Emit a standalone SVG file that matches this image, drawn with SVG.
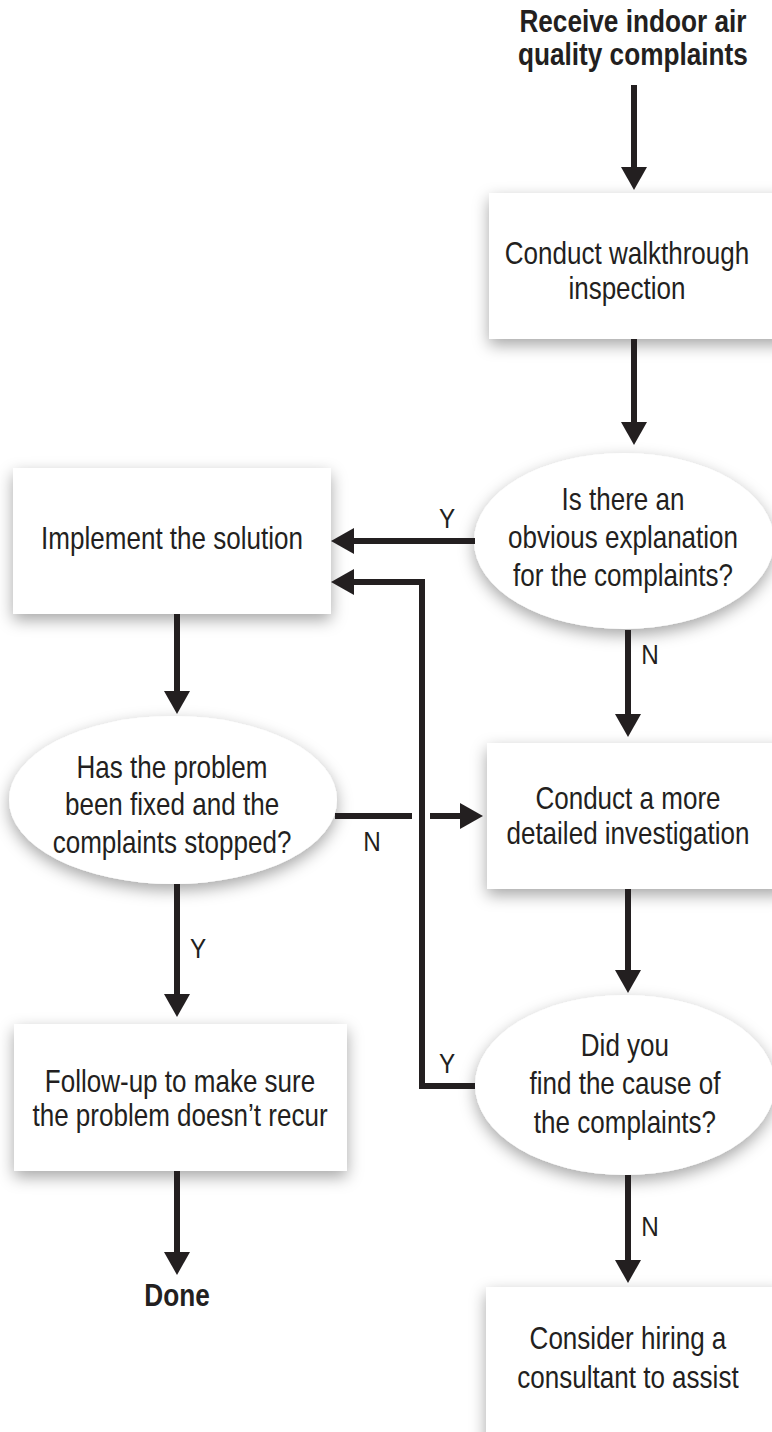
<svg xmlns="http://www.w3.org/2000/svg" width="772" height="1432" viewBox="0 0 772 1432">
  <style>
    .t { font-family: "Liberation Sans", Arial, Helvetica, sans-serif; font-size: 31px; fill: #231f20; text-anchor: middle; }
    .b { font-weight: bold; }
    .lbl { font-family: "Liberation Sans", Arial, Helvetica, sans-serif; font-size: 27px; fill: #231f20; text-anchor: middle; }
    .shape { fill: #ffffff; filter: url(#sh); }
    .ln { fill: none; stroke: #231f20; stroke-width: 6; stroke-linecap: butt; stroke-linejoin: miter; }
  </style>
  <defs>
    <filter id="sh" x="-20%" y="-20%" width="140%" height="150%">
      <feDropShadow dx="0" dy="6" stdDeviation="8" flood-color="#000" flood-opacity="0.35"/>
    </filter>
    <marker id="ah" markerUnits="userSpaceOnUse" markerWidth="24" markerHeight="28" refX="1" refY="13" orient="auto" viewBox="0 0 24 28">
      <path d="M0,0 L23,13 L0,26 z" fill="#231f20"/>
    </marker>
  </defs>
  <rect width="772" height="1432" fill="#ffffff"/>

  <g id="n-start">
    <text class="t b" transform="scale(0.845 1)" x="749" y="32">Receive indoor air</text>
    <text class="t b" transform="scale(0.845 1)" x="749" y="65">quality complaints</text>
  </g>

  <g id="n-walk">
    <rect class="shape" x="489" y="193" width="300" height="146"/>
    <text class="t" transform="scale(0.84 1)" x="746.4" y="264">Conduct walkthrough</text>
    <text class="t" transform="scale(0.84 1)" x="746.4" y="299">inspection</text>
  </g>

  <g id="n-obvious">
    <ellipse class="shape" cx="624" cy="541" rx="150" ry="88"/>
    <text class="t" transform="scale(0.84 1)" x="741.7" y="510">Is there an</text>
    <text class="t" transform="scale(0.84 1)" x="741.7" y="548">obvious explanation</text>
    <text class="t" transform="scale(0.84 1)" x="741.7" y="586">for the complaints?</text>
  </g>

  <g id="n-implement">
    <rect class="shape" x="13" y="468" width="318" height="146"/>
    <text class="t" transform="scale(0.84 1)" x="204.8" y="549">Implement the solution</text>
  </g>

  <g id="n-fixed">
    <ellipse class="shape" cx="173" cy="800" rx="164" ry="84"/>
    <text class="t" transform="scale(0.84 1)" x="204.8" y="778">Has the problem</text>
    <text class="t" transform="scale(0.84 1)" x="204.8" y="815">been fixed and the</text>
    <text class="t" transform="scale(0.84 1)" x="204.8" y="853">complaints stopped?</text>
  </g>

  <g id="n-detailed">
    <rect class="shape" x="487" y="743" width="300" height="146"/>
    <text class="t" transform="scale(0.84 1)" x="747.6" y="809">Conduct a more</text>
    <text class="t" transform="scale(0.84 1)" x="747.6" y="844">detailed investigation</text>
  </g>

  <g id="n-cause">
    <ellipse class="shape" cx="625" cy="1085" rx="150" ry="90"/>
    <text class="t" transform="scale(0.84 1)" x="744" y="1056">Did you</text>
    <text class="t" transform="scale(0.84 1)" x="744" y="1094">find the cause of</text>
    <text class="t" transform="scale(0.84 1)" x="744" y="1133">the complaints?</text>
  </g>

  <g id="n-followup">
    <rect class="shape" x="14" y="1024" width="333" height="147"/>
    <text class="t" transform="scale(0.84 1)" x="214.3" y="1092">Follow-up to make sure</text>
    <text class="t" transform="scale(0.84 1)" x="214.3" y="1126">the problem doesn’t recur</text>
  </g>

  <g id="n-consultant">
    <rect class="shape" x="486" y="1287" width="300" height="160"/>
    <text class="t" transform="scale(0.84 1)" x="747.6" y="1349">Consider hiring a</text>
    <text class="t" transform="scale(0.84 1)" x="747.6" y="1388">consultant to assist</text>
  </g>

  <g id="n-done">
    <text class="t b" transform="scale(0.845 1)" x="209.5" y="1306">Done</text>
  </g>

  <g id="connectors">
    <path class="ln" d="M634,85 V168" marker-end="url(#ah)"/>
    <path class="ln" d="M634,339 V423" marker-end="url(#ah)"/>
    <path class="ln" d="M475,541 H353" marker-end="url(#ah)"/>
    <path class="ln" d="M628,630 V715" marker-end="url(#ah)"/>
    <path class="ln" d="M628,889 V971" marker-end="url(#ah)"/>
    <path class="ln" d="M628,1175 V1261" marker-end="url(#ah)"/>
    <path class="ln" d="M177,614 V692" marker-end="url(#ah)"/>
    <path class="ln" d="M177,884 V995" marker-end="url(#ah)"/>
    <path class="ln" d="M177,1171 V1253" marker-end="url(#ah)"/>
    <path class="ln" d="M475,1086 H422 V582 H353" marker-end="url(#ah)"/>
    <path class="ln" d="M335,816 H412"/>
    <path class="ln" d="M430,816 H461" marker-end="url(#ah)"/>
    <text class="lbl" transform="scale(0.9 1)" x="496.7" y="528">Y</text>
    <text class="lbl" transform="scale(0.9 1)" x="722.2" y="664">N</text>
    <text class="lbl" transform="scale(0.9 1)" x="413.3" y="851">N</text>
    <text class="lbl" transform="scale(0.9 1)" x="220" y="958">Y</text>
    <text class="lbl" transform="scale(0.9 1)" x="496.7" y="1073">Y</text>
    <text class="lbl" transform="scale(0.9 1)" x="722.2" y="1236">N</text>
  </g>
</svg>
